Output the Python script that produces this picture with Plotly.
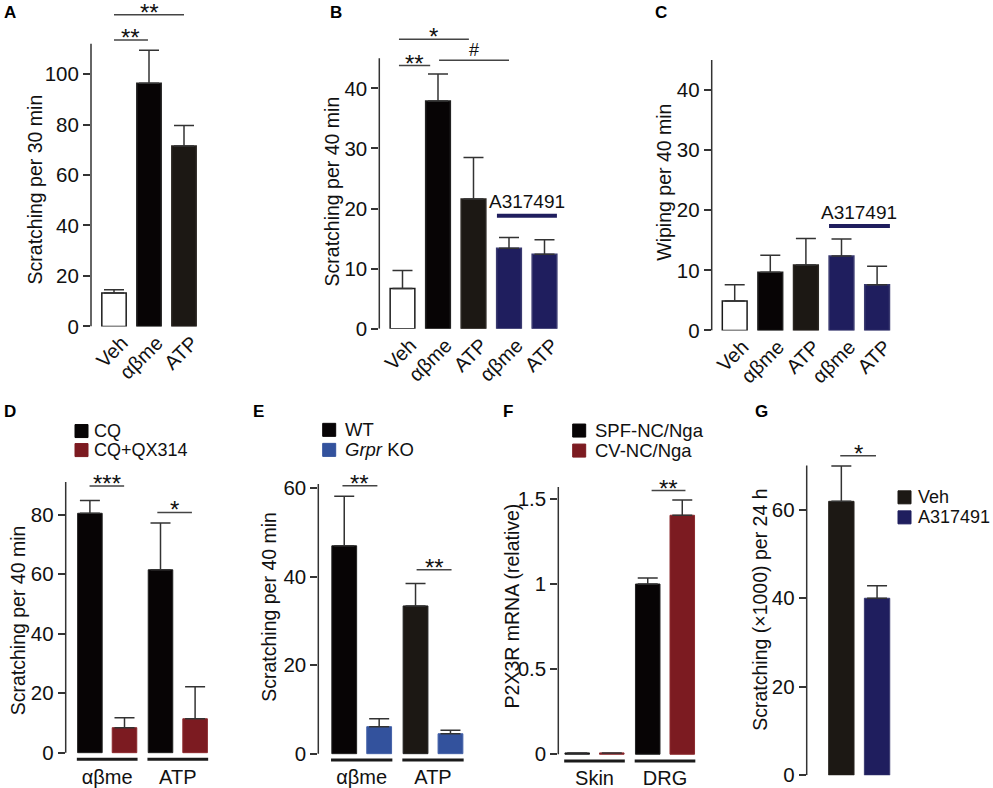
import plotly.graph_objects as go

W, H = 993, 788          # reference picture size (all pixel positions below are in it)
FIG_H = 800              # page height that maps onto the photographed 788 rows
FONT = "Liberation Sans, Arial, Helvetica, sans-serif"

# ---------------- data ----------------
A_labels = ["Veh", "αβme", "ATP"]
A_mean = [13.2, 96.4, 71.5]
A_err = [1.3, 13.1, 8.1]

B_labels = ["Veh", "αβme", "ATP", "αβme", "ATP"]
B_mean = [6.7, 37.9, 21.6, 13.4, 12.4]
B_err = [3.0, 4.5, 6.9, 1.8, 2.4]

C_labels = ["Veh", "αβme", "ATP", "αβme", "ATP"]
C_mean = [4.9, 9.7, 10.9, 12.4, 7.6]
C_err = [2.7, 2.8, 4.4, 2.8, 3.1]

D_groups = ["αβme", "ATP"]
D_series = ["CQ", "CQ+QX314"]
D_CQ = [80.5, 61.5]
D_CQ_err = [4.3, 15.7]
D_QX = [8.4, 11.4]
D_QX_err = [3.3, 10.8]

E_groups = ["αβme", "ATP"]
E_series = ["WT", "<i>Grpr</i> KO"]
E_WT = [47.0, 33.4]
E_WT_err = [11.2, 5.1]
E_KO = [6.1, 4.5]
E_KO_err = [1.8, 0.8]

F_groups = ["Skin", "DRG"]
F_series = ["SPF-NC/Nga", "CV-NC/Nga"]
F_SPF = [0.008, 1.0]
F_SPF_err = [0, 0.035]
F_CV = [0.008, 1.404]
F_CV_err = [0, 0.09]

G_groups = ["24 h"]
G_series = ["Veh", "A317491"]
G_Veh = [61.9]
G_Veh_err = [8.0]
G_A = [40.0]
G_A_err = [2.8]

# significance brackets: (mark, x from, x to, y level)
A_sig = [("**", 0.0, 0.97, 113.5), ("**", 0.0, 2.0, 123.5)]
B_sig = [("**", -0.1, 0.78, 43.8), ("#", 1.03, 3.0, 44.7), ("*", -0.1, 1.87, 48.2)]
D_sig = [("***", -0.25, 0.24, 89.7), ("*", 0.71, 1.2, 80.8)]
E_sig = [("**", -0.27, 0.22, 60.6), ("**", 0.77, 1.26, 41.6)]
F_sig = [("**", 0.81, 1.29, 1.549)]
G_sig = [("*", -0.26, 0.23, 72.2)]

# treatment bar (A317491) : x from, x to, y level, label level
B_treat = (2.66, 4.35, 18.8, 21.1)
C_treat = (2.65, 4.36, 17.4, 19.7)

# ---------------- style ----------------
WHITE = "#ffffff"
BLACK = "#070405"
DARK = "#1c1814"
NAVY = "#1f1e5e"
RED = "#7c1b21"
BLUE = "#33529d"
INK = "#111111"
AX = "#333333"
SIG = "#444444"

# pixel geometry: left, right, top, bottom, first category px, px per category, zero px, px per unit
GEO = {
    1: (91, 205, 5, 326, 114, 35, 326, 2.52),
    2: (379.3, 565, 25, 328.3, 402.5, 35.5, 328.3, 6.0),
    3: (711.7, 900, 30, 330, 734.7, 35.6, 330, 6.0),
    4: (65.7, 215, 470, 762, 107.2, 70.6, 751.7, 2.97),
    5: (318.3, 470, 470, 762, 361.7, 71.3, 752.7, 4.417),
    6: (558.3, 705, 475, 763, 594.5, 70.5, 753.3, 170.0),
    7: (806.7, 895, 440, 774.3, 859.2, 72.9, 774.3, 4.42),
}

fig = go.Figure()
layout = {}
shapes = []
annotations = []


def refs(n):
    return ("x" if n == 1 else f"x{n}"), ("y" if n == 1 else f"y{n}")


def setup(n, yticks, ytext, ytop, xcfg):
    left, right, top, bottom, c0, step, zero, k = GEO[n]
    key = "" if n == 1 else str(n)
    xr, yr = refs(n)
    layout["xaxis" + key] = dict(
        domain=[left / W, right / W],
        range=[(left - c0) / step, (right - c0) / step],
        anchor=yr, showgrid=False, zeroline=False, showline=False,
        ticks="", fixedrange=True, **xcfg)
    layout["yaxis" + key] = dict(
        domain=[1 - bottom / H, 1 - top / H],
        range=[(zero - bottom) / k, (zero - top) / k],
        anchor=xr, showgrid=False, zeroline=False, showline=False,
        ticks="outside", ticklen=7, tickwidth=1.5, tickcolor=AX,
        tickvals=yticks, ticktext=ytext,
        tickfont=dict(size=20.5, color=INK), fixedrange=True)
    # y axis line from 0 to the top of the scale
    shapes.append(dict(type="line", xref=xr + " domain", yref=yr,
                       x0=0, x1=0, y0=0, y1=ytop,
                       line=dict(color=AX, width=1.5)))


def err(vals):
    return dict(type="data", array=vals, arrayminus=[0] * len(vals),
                symmetric=False, color=AX, thickness=1.5, width=10)


def sig(n, items):
    xr, yr = refs(n)
    for mark, x0, x1, y in items:
        shapes.append(dict(type="line", xref=xr, yref=yr, x0=x0, x1=x1,
                           y0=y, y1=y, line=dict(color=SIG, width=1.5)))
        star = "*" in mark
        annotations.append(dict(
            text=mark, xref=xr, yref=yr, x=(x0 + x1) / 2, y=y,
            xanchor="center", yanchor="bottom", showarrow=False,
            yshift=-13 if star else -2,
            font=dict(size=24 if star else 18, color=INK)))


def treat(n, spec):
    xr, yr = refs(n)
    x0, x1, y, ty = spec
    shapes.append(dict(type="line", xref=xr, yref=yr, x0=x0, x1=x1,
                       y0=y, y1=y, line=dict(color=NAVY, width=4)))
    annotations.append(dict(text="A317491", xref=xr, yref=yr,
                            x=(x0 + x1) / 2, y=ty, showarrow=False,
                            xanchor="center", yanchor="middle",
                            font=dict(size=19, color=INK)))


def underline(n, ngroups, y):
    xr, yr = refs(n)
    for g in range(ngroups):
        shapes.append(dict(type="line", xref=xr, yref=yr, x0=g - 0.43,
                           x1=g + 0.43, y0=y, y1=y,
                           line=dict(color="#1a1a1a", width=3)))


def legend(items, sq_left, txt_left, y0, dy, size=18.5):
    for i, (name, col) in enumerate(items):
        yc = y0 + i * dy
        shapes.append(dict(type="rect", xref="paper", yref="paper",
                           x0=sq_left / W, x1=(sq_left + 13) / W,
                           y0=1 - (yc + 6.5) / H, y1=1 - (yc - 6.5) / H,
                           fillcolor=col, line=dict(color=col, width=1)))
        annotations.append(dict(text=name, xref="paper", yref="paper",
                                x=txt_left / W, y=1 - yc / H,
                                xanchor="left", yanchor="middle",
                                showarrow=False,
                                font=dict(size=size, color=INK)))


rot = dict(tickangle=-45, tickfont=dict(size=20, color=INK), ticklabelshift=8)
flat = dict(tickfont=dict(size=20, color=INK), type="category")

# ---- A ----
setup(1, [0, 20, 40, 60, 80, 100], None, 112,
      dict(tickvals=list(range(len(A_labels))), ticktext=A_labels, **rot))
fig.add_trace(go.Bar(x=list(range(len(A_labels))), y=A_mean, error_y=err(A_err),
                     marker=dict(color=[WHITE, BLACK, DARK],
                                 line=dict(color=["#1a1a1a", "#222222", "#2a2622"], width=1.5)),
                     xaxis="x", yaxis="y", showlegend=False))
sig(1, A_sig)

# ---- B ----
bc_cols = [WHITE, BLACK, DARK, NAVY, NAVY]
bc_line = ["#1a1a1a", "#222222", "#2a2622", "#3a3a70", "#3a3a70"]
setup(2, [0, 10, 20, 30, 40], None, 45,
      dict(tickvals=list(range(len(B_labels))), ticktext=B_labels, **rot))
fig.add_trace(go.Bar(x=list(range(len(B_labels))), y=B_mean, error_y=err(B_err),
                     marker=dict(color=bc_cols, line=dict(color=bc_line, width=1.5)),
                     xaxis="x2", yaxis="y2", showlegend=False))
sig(2, B_sig)
treat(2, B_treat)

# ---- C ----
setup(3, [0, 10, 20, 30, 40], None, 45,
      dict(tickvals=list(range(len(C_labels))), ticktext=C_labels, **rot))
fig.add_trace(go.Bar(x=list(range(len(C_labels))), y=C_mean, error_y=err(C_err),
                     marker=dict(color=bc_cols, line=dict(color=bc_line, width=1.5)),
                     xaxis="x3", yaxis="y3", showlegend=False))
treat(3, C_treat)

# ---- D ----
setup(4, [0, 20, 40, 60, 80], None, 91, flat)
fig.add_trace(go.Bar(x=D_groups, y=D_CQ, error_y=err(D_CQ_err), name=D_series[0],
                     marker=dict(color=BLACK, line=dict(color="#222222", width=1)),
                     xaxis="x4", yaxis="y4", showlegend=False))
fig.add_trace(go.Bar(x=D_groups, y=D_QX, error_y=err(D_QX_err), name=D_series[1],
                     marker=dict(color=RED, line=dict(color="#8c2a2e", width=1)),
                     xaxis="x4", yaxis="y4", showlegend=False))
sig(4, D_sig)
underline(4, len(D_groups), -2.2)
legend([(D_series[0], BLACK), (D_series[1], RED)], 75, 91.7, 430.5, 19, 18)

# ---- E ----
setup(5, [0, 20, 40, 60], None, 61, flat)
fig.add_trace(go.Bar(x=E_groups, y=E_WT, error_y=err(E_WT_err), name="WT",
                     marker=dict(color=[BLACK, DARK], line=dict(color="#222222", width=1)),
                     xaxis="x5", yaxis="y5", showlegend=False))
fig.add_trace(go.Bar(x=E_groups, y=E_KO, error_y=err(E_KO_err), name="Grpr KO",
                     marker=dict(color=BLUE, line=dict(color="#4462a8", width=1)),
                     xaxis="x5", yaxis="y5", showlegend=False))
sig(5, E_sig)
underline(5, len(E_groups), -1.43)
legend([(E_series[0], BLACK), (E_series[1], BLUE)], 322.7, 343.3, 429.3, 20)

# ---- F ----
setup(6, [0, 0.5, 1, 1.5], ["0", "0.5", "1", "1.5"], 1.57, flat)
fig.add_trace(go.Bar(x=F_groups, y=F_SPF, error_y=err(F_SPF_err), name=F_series[0],
                     marker=dict(color=BLACK, line=dict(color="#222222", width=1)),
                     xaxis="x6", yaxis="y6", showlegend=False))
fig.add_trace(go.Bar(x=F_groups, y=F_CV, error_y=err(F_CV_err), name=F_series[1],
                     marker=dict(color=RED, line=dict(color="#8c2a2e", width=1)),
                     xaxis="x6", yaxis="y6", showlegend=False))
sig(6, F_sig)
underline(6, len(F_groups), -0.039)
legend([(F_series[0], BLACK), (F_series[1], RED)], 572.7, 592.7, 430, 20)

# ---- G ----
setup(7, [0, 20, 40, 60], None, 70, dict(type="category", showticklabels=False))
fig.add_trace(go.Bar(x=G_groups, y=G_Veh, error_y=err(G_Veh_err), name=G_series[0],
                     marker=dict(color=DARK, line=dict(color="#2a2622", width=1)),
                     xaxis="x7", yaxis="y7", showlegend=False))
fig.add_trace(go.Bar(x=G_groups, y=G_A, error_y=err(G_A_err), name=G_series[1],
                     marker=dict(color=NAVY, line=dict(color="#3a3a70", width=1)),
                     xaxis="x7", yaxis="y7", showlegend=False))
sig(7, G_sig)
legend([(G_series[0], DARK), (G_series[1], NAVY)], 898, 915.5, 496.7, 20, 18)

# ---- axis titles ----
titles = [
    ("Scratching per 30 min", 34.7, 189.5),
    ("Scratching per 40 min", 331.7, 191.5),
    ("Wiping per 40 min", 664, 182.5),
    ("Scratching per 40 min", 17.5, 620),
    ("Scratching per 40 min", 269, 606),
    ("P2X3R mRNA (relative)", 511.7, 605),
    ("Scratching (×1000) per 24 h", 760, 609),
]
for t, cx, cy in titles:
    annotations.append(dict(text=t, xref="paper", yref="paper", x=cx / W, y=1 - cy / H,
                            textangle=-90, xanchor="center", yanchor="middle",
                            showarrow=False, font=dict(size=19.5, color=INK)))

# ---- panel letters ----
letters = [("A", 1.7, 12.5), ("B", 328.3, 12.5), ("C", 653.3, 12.5),
           ("D", 1.7, 411), ("E", 251, 411), ("F", 501, 411), ("G", 753.3, 411)]
for t, lx, ly in letters:
    annotations.append(dict(text=f"<b>{t}</b>", xref="paper", yref="paper",
                            x=lx / W, y=1 - ly / H, xanchor="left", yanchor="middle",
                            showarrow=False, font=dict(size=17, color="#000000")))

fig.update_layout(
    width=W, height=FIG_H, margin=dict(l=0, r=0, t=0, b=0),
    paper_bgcolor="white", plot_bgcolor="white",
    font=dict(family=FONT, color=INK),
    barmode="group", bargap=0.02, bargroupgap=0.29,
    showlegend=False, shapes=shapes, annotations=annotations,
    **layout)

fig.write_html(
    "out.html",
    config={"displayModeBar": False},
    post_script="document.body.style.margin='0';document.body.style.padding='0';",
)
